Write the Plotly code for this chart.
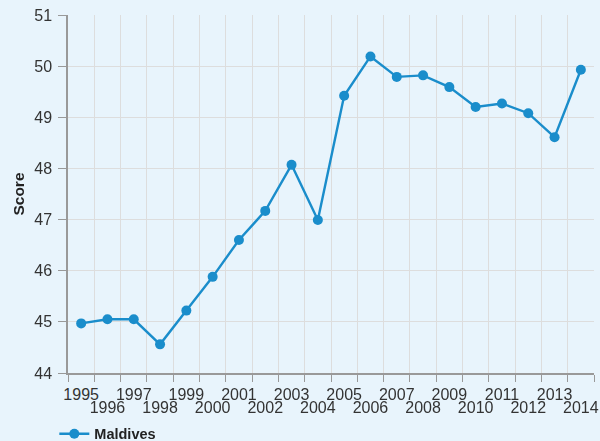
import plotly.graph_objects as go

years = list(range(1995, 2015))
scores = [44.97, 45.05, 45.05, 44.56, 45.22, 45.88, 46.60, 47.17, 48.07, 46.99,
          49.42, 50.19, 49.79, 49.82, 49.59, 49.20, 49.27, 49.08, 48.61, 49.93]
row1_years = years[0::2]
row2_years = years[1::2]

xrange_ = [min(years) - 0.5, max(years) + 0.5]

fig = go.Figure()
fig.add_trace(go.Scatter(
    x=years, y=scores, mode="lines+markers", name="<b>Maldives</b>",
    line=dict(color="#1a8dcb", width=2.4),
    marker=dict(color="#1a8dcb", size=10),
))
# invisible companion trace so the second-row label axis is drawn
fig.add_trace(go.Scatter(
    x=years, y=scores, xaxis="x2", mode="markers", opacity=0,
    showlegend=False, hoverinfo="skip",
))

fig.update_layout(
    width=600, height=441,
    paper_bgcolor="#e8f4fc", plot_bgcolor="#e8f4fc",
    margin=dict(l=68, r=6, t=15, b=68, autoexpand=False),
    font=dict(family="Liberation Sans, Arial, sans-serif", size=16, color="#333333"),
    showlegend=True,
    legend=dict(orientation="h", x=-0.026, y=-0.125, xanchor="left", yanchor="top",
                font=dict(size=14.5, color="#222222"), bgcolor="rgba(0,0,0,0)"),
    xaxis=dict(
        automargin=False, range=xrange_,
        tickmode="array", tickvals=row1_years, ticktext=[str(y) for y in row1_years],
        ticks="", ticklabelstandoff=6, tickangle=0, showgrid=False,
        minor=dict(tick0=min(years) - 0.5, dtick=1, ticks="outside", ticklen=7,
                   tickcolor="#999999", showgrid=True, gridcolor="#dddddd", gridwidth=1),
        showline=True, linecolor="#999999", linewidth=1.5, zeroline=False,
    ),
    xaxis2=dict(
        automargin=False, range=xrange_, overlaying="x", anchor="y", side="bottom",
        tickmode="array", tickvals=row2_years, ticktext=[str(y) for y in row2_years],
        ticks="", ticklabelstandoff=23, tickangle=0, showgrid=False,
        showline=False, zeroline=False,
    ),
    yaxis=dict(
        automargin=False, range=[44, 51], dtick=1, ticks="outside", ticklen=8,
        tickcolor="#999999", ticklabelstandoff=3,
        showgrid=True, gridcolor="#dddddd", gridwidth=1,
        showline=True, linecolor="#999999", linewidth=1.5, zeroline=False,
        title=dict(text="<b>Score</b>", font=dict(size=15.5, color="#222222"), standoff=6),
    ),
)

fig.write_html(
    "out.html",
    config={"displayModeBar": False},
    post_script="document.body.style.margin='0';document.body.style.background='#e8f4fc';",
)
